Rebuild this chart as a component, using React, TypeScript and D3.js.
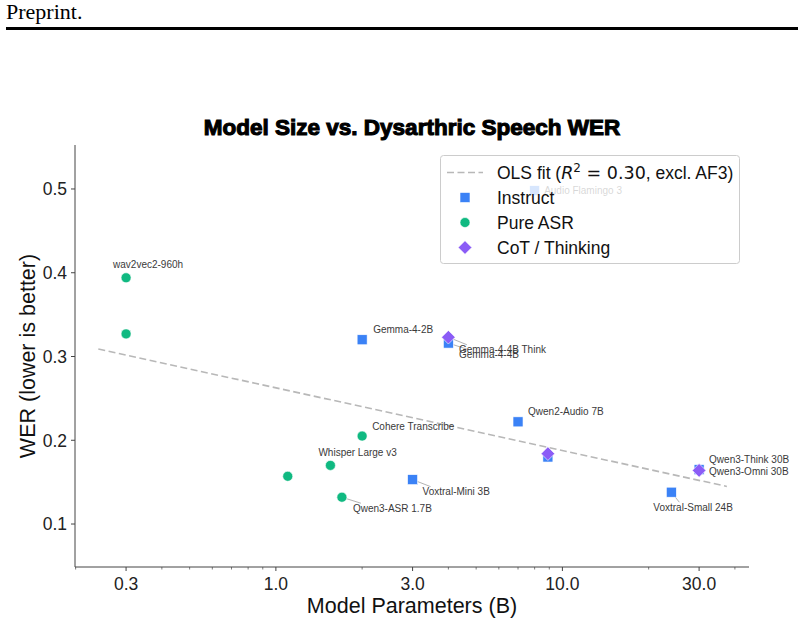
import * as d3 from "d3";

// model sizes (B params) and WER on dysarthric speech
const models = [
  "wav2vec2-960h",
  "wav2vec2-base",
  "Whisper Large v3",
  "Whisper Medium",
  "Qwen3-ASR 1.7B",
  "Cohere Transcribe",
  "Gemma-4-2B",
  "Gemma-4-4B",
  "Voxtral-Mini 3B",
  "Qwen2-Audio 7B",
  "Qwen2.5-Omni 7B",
  "Voxtral-Small 24B",
  "Qwen3-Omni 30B",
  "Audio Flamingo 3",
  "Gemma-4-4B Think",
  "Qwen2.5-Omni Think",
  "Qwen3-Think 30B",
];
const params = [0.3, 0.3, 1.55, 1.1, 1.7, 2.0, 2.0, 4.0, 3.0, 7.0, 8.9, 24, 30, 8.0, 4.0, 8.9, 30];
const wer = [
  0.394, 0.327, 0.17, 0.157, 0.132, 0.205, 0.32, 0.316, 0.153, 0.222, 0.18, 0.138, 0.165, 0.498,
  0.323, 0.184, 0.164,
];
const groups = [
  "Pure ASR", "Pure ASR", "Pure ASR", "Pure ASR", "Pure ASR", "Pure ASR",
  "Instruct", "Instruct", "Instruct", "Instruct", "Instruct", "Instruct", "Instruct", "Instruct",
  "CoT / Thinking", "CoT / Thinking", "CoT / Thinking",
];
const groupOrder = ["Instruct", "Pure ASR", "CoT / Thinking"];
const xTickValues = [0.3, 1, 3, 10, 30];
const yTickValues = [0.1, 0.2, 0.3, 0.4, 0.5];

// OLS fit of WER on log10(params), excluding AF3
const fitIntercept = 0.2626;
const fitSlope = -0.0748;
const fitR2 = 0.3;

// label placement (px offset of text start / middle from the point), styling only
const labelLayout: Record<string, { dx: number; dy: number; lead?: boolean }> = {
  "wav2vec2-960h": { dx: -13, dy: -13 },
  "Whisper Large v3": { dx: -12, dy: -13 },
  "Qwen3-ASR 1.7B": { dx: 11, dy: 11, lead: true },
  "Cohere Transcribe": { dx: 10, dy: -10 },
  "Gemma-4-2B": { dx: 11, dy: -10 },
  "Gemma-4-4B": { dx: 10.5, dy: 11, lead: true },
  "Voxtral-Mini 3B": { dx: 10, dy: 12, lead: true },
  "Qwen2-Audio 7B": { dx: 10, dy: -10 },
  "Voxtral-Small 24B": { dx: -18, dy: 15, lead: true },
  "Qwen3-Omni 30B": { dx: 10, dy: 1.5 },
  "Audio Flamingo 3": { dx: 9.5, dy: 0 },
  "Gemma-4-4B Think": { dx: 10.5, dy: 12.5, lead: true },
  "Qwen3-Think 30B": { dx: 10, dy: -10.5 },
};

const colors: Record<string, string> = {
  Instruct: "#3b82f6",
  "Pure ASR": "#10b981",
  "CoT / Thinking": "#8b5cf6",
};

const W = 804;
const H = 625;
const margin = { left: 75, right: 55, top: 145, bottom: 58 };
const font = "'Liberation Sans', Arial, Helvetica, sans-serif";
const mathFont = "'DejaVu Sans', sans-serif";

const marker = (g: string, cx: number, cy: number, key: string | number) => {
  const c = colors[g];
  if (g === "Instruct") {
    return <rect key={key} x={cx - 5} y={cy - 5} width={10} height={10} fill={c} stroke="#fff" strokeWidth={0.6} />;
  }
  if (g === "Pure ASR") {
    return <circle key={key} cx={cx} cy={cy} r={5} fill={c} stroke="#fff" strokeWidth={0.6} />;
  }
  const d = 6.8;
  return (
    <path
      key={key}
      d={`M${cx},${cy - d}L${cx + d},${cy}L${cx},${cy + d}L${cx - d},${cy}Z`}
      fill={c}
      stroke="#fff"
      strokeWidth={0.6}
    />
  );
};

export default function App() {
  const x = d3
    .scaleLog()
    .domain([0.199, 44.8])
    .range([margin.left, W - margin.right]);
  const y = d3
    .scaleLinear()
    .domain([0.0487, 0.5525])
    .range([H - margin.bottom, margin.top]);

  const bottom = H - margin.bottom;
  const minorTicks = x.ticks().filter((t) => !xTickValues.some((m) => Math.abs(m - t) < 1e-9));

  const fitXs = [d3.min(params)! * 0.8, d3.max(params)! * 1.25];
  const fitLine = d3
    .line<number>()
    .x((v) => x(v))
    .y((v) => y(fitIntercept + fitSlope * Math.log10(v)));

  const idx = d3.range(models.length);

  return (
    <svg
      width={W}
      height={H}
      style={{ position: "absolute", left: 0, top: 0, background: "#fff" }}
      fontFamily={font}
    >
      {/* page header */}
      <text x={6} y={19} fontFamily="'Liberation Serif', serif" fontSize={22}>
        Preprint.
      </text>
      <rect x={6} y={27} width={792} height={3} fill="#000" />

      {/* title */}
      <text
        x={412}
        y={135}
        textAnchor="middle"
        fontSize={22.5}
        fontWeight={700}
        stroke="#000"
        strokeWidth={1.1}
      >
        Model Size vs. Dysarthric Speech WER
      </text>

      {/* fit line */}
      <path
        d={fitLine(fitXs) ?? ""}
        fill="none"
        stroke="#b8b8b8"
        strokeWidth={1.6}
        strokeDasharray="7,3.5"
      />

      {/* leader lines */}
      {idx.map((i) => {
        const lay = labelLayout[models[i]];
        if (!lay || !lay.lead) return null;
        const px = x(params[i]);
        const py = y(wer[i]);
        const lx = px + lay.dx;
        const ly = py + lay.dy;
        const w = models[i].length * 5.6;
        const ex = Math.max(lx, Math.min(px, lx + w)) + 8;
        const ey = Math.max(ly - 5, Math.min(py, ly + 5));
        return <line key={"l" + i} x1={px} y1={py} x2={ex} y2={ey} stroke="#777" strokeWidth={0.7} opacity={0.8} />;
      })}

      {/* points */}
      {groupOrder.map((g) =>
        idx.filter((i) => groups[i] === g).map((i) => marker(g, x(params[i]), y(wer[i]), "p" + i))
      )}

      {/* point labels */}
      {idx.map((i) => {
        const lay = labelLayout[models[i]];
        if (!lay) return null;
        return (
          <text
            key={"t" + i}
            x={x(params[i]) + lay.dx}
            y={y(wer[i]) + lay.dy}
            dy="0.35em"
            fontSize={10}
            fill="#3a3a3a"
          >
            {models[i]}
          </text>
        );
      })}

      {/* spines */}
      <line x1={margin.left} x2={margin.left} y1={margin.top} y2={bottom} stroke="#444" strokeWidth={1} />
      <line x1={margin.left} x2={W - margin.right} y1={bottom} y2={bottom} stroke="#444" strokeWidth={1} />

      {/* y ticks */}
      {yTickValues.map((t) => (
        <g key={"y" + t}>
          <line x1={margin.left - 4} x2={margin.left} y1={y(t)} y2={y(t)} stroke="#444" />
          <text x={margin.left - 8} y={y(t)} dy="0.36em" textAnchor="end" fontSize={17.5} fill="#222">
            {t.toFixed(1)}
          </text>
        </g>
      ))}

      {/* x ticks */}
      {minorTicks.map((t) => (
        <line key={"m" + t} x1={x(t)} x2={x(t)} y1={bottom} y2={bottom + 2.5} stroke="#444" strokeWidth={0.7} />
      ))}
      {xTickValues.map((t) => (
        <g key={"x" + t}>
          <line x1={x(t)} x2={x(t)} y1={bottom} y2={bottom + 4} stroke="#444" />
          <text x={x(t)} y={bottom + 23} textAnchor="middle" fontSize={17.5} fill="#222">
            {t.toFixed(1)}
          </text>
        </g>
      ))}

      {/* axis labels */}
      <text x={412} y={613} textAnchor="middle" fontSize={21.5} fill="#111">
        Model Parameters (B)
      </text>
      <text
        transform={`translate(35,${(margin.top + bottom) / 2}) rotate(-90)`}
        textAnchor="middle"
        fontSize={21.5}
        fill="#111"
      >
        WER (lower is better)
      </text>

      {/* legend */}
      <g>
        <rect x={440.5} y={155.5} width={299} height={108} rx={3} fill="#fff" fillOpacity={0.8} stroke="#ccc" />
        <line x1={447} x2={483} y1={172.5} y2={172.5} stroke="#b8b8b8" strokeWidth={1.6} strokeDasharray="7,3.5" />
        <text x={497} y={172.5} dy="0.35em" fontSize={17.5} fill="#111">
          OLS fit (
          <tspan fontFamily={mathFont} fontStyle="italic">R</tspan>
          <tspan fontFamily={mathFont} dy={-7} fontSize={12}>2</tspan>
          <tspan fontFamily={mathFont} dy={7}> = {fitR2.toFixed(2)}</tspan>
          <tspan>, excl. AF3)</tspan>
        </text>
        {groupOrder.map((g, k) => {
          const cy = 197.5 + k * 25;
          return (
            <g key={"lg" + g}>
              {marker(g, 465, cy, "lm" + g)}
              <text x={497} y={cy} dy="0.35em" fontSize={17.5} fill="#111">
                {g}
              </text>
            </g>
          );
        })}
      </g>
    </svg>
  );
}
